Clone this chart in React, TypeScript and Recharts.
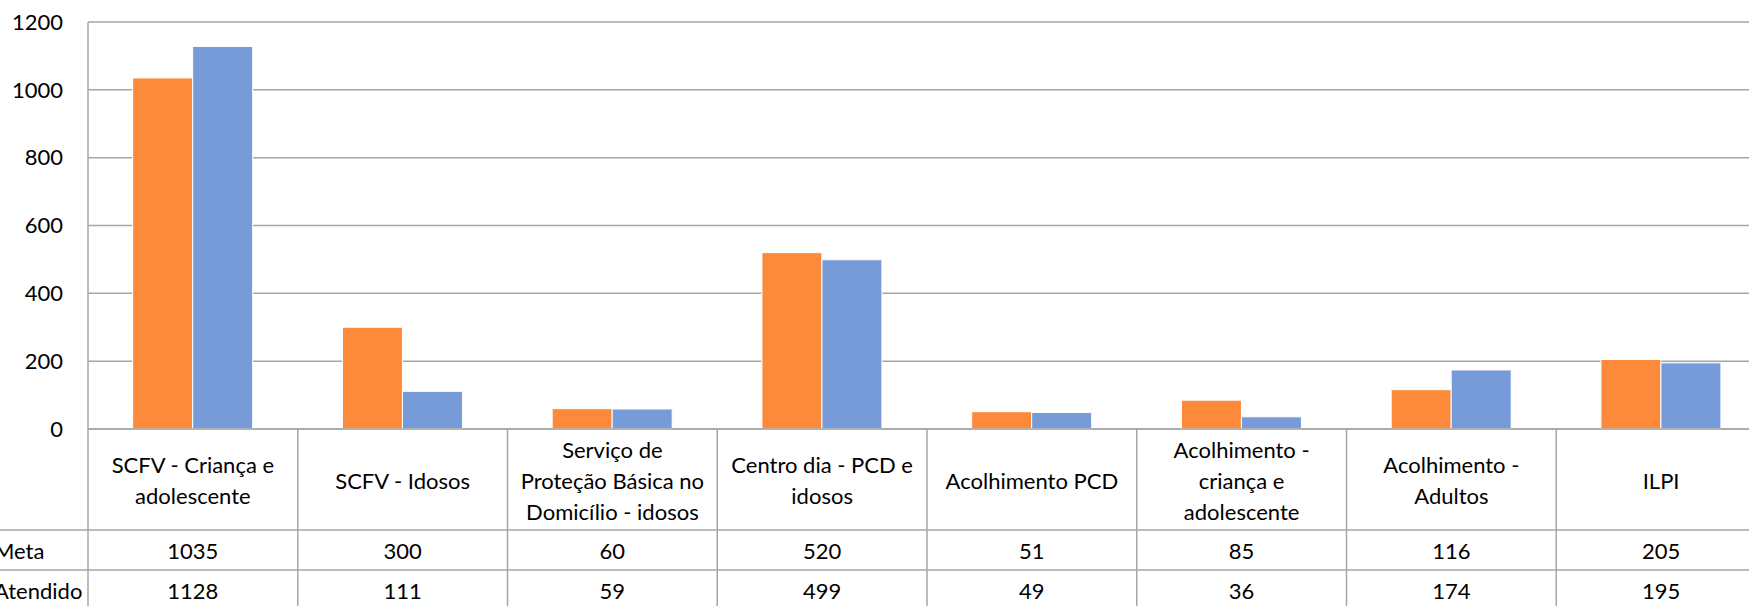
import { BarChart, Bar, XAxis, YAxis, CartesianGrid } from 'recharts'

const categories = [
  'SCFV - Criança e adolescente',
  'SCFV - Idosos',
  'Serviço de Proteção Básica no Domicílio - idosos',
  'Centro dia - PCD e idosos',
  'Acolhimento PCD',
  'Acolhimento - criança e adolescente',
  'Acolhimento - Adultos',
  'ILPI',
]
const labelLines = [
  ['SCFV - Criança e', 'adolescente'],
  ['SCFV - Idosos'],
  ['Serviço de', 'Proteção Básica no', 'Domicílio - idosos'],
  ['Centro dia - PCD e', 'idosos'],
  ['Acolhimento PCD'],
  ['Acolhimento -', 'criança e', 'adolescente'],
  ['Acolhimento -', 'Adultos'],
  ['ILPI'],
]
const meta = [1035, 300, 60, 520, 51, 85, 116, 205]
const atendido = [1128, 111, 59, 499, 49, 36, 174, 195]
const yTicks = [0, 200, 400, 600, 800, 1000, 1200]

const data = categories.map((name, i) => ({ name, meta: meta[i], atendido: atendido[i] }))

const W = 1766
const H = 620
const Y_AXIS_W = 88
const X_AXIS_H = 191
const COL = (W - Y_AXIS_W) / categories.length
const FONT = 'Lato, "Open Sans", sans-serif'
const LINE = '#A6A6A6'

const TableTick = (props: any) => {
  const { x, y, index } = props
  const lines = labelLines[index]
  const left = x - COL / 2
  const right = x + COL / 2
  const labelMid = y + 51
  const lh = 31
  const startY = labelMid - ((lines.length - 1) * lh) / 2
  return (
    <g fontFamily={FONT} fontSize={22} fill="#000">
      {index === 0 && (
        <g>
          <line x1={left} x2={left} y1={y} y2={H} stroke={LINE} strokeWidth={1.5} />
          <line x1={0} x2={W} y1={y + 101} y2={y + 101} stroke={LINE} strokeWidth={1.5} />
          <line x1={0} x2={W} y1={y + 141} y2={y + 141} stroke={LINE} strokeWidth={1.5} />
          <text x={-6} y={y + 121} dominantBaseline="central" textAnchor="start">Meta</text>
          <text x={-6} y={y + 161} dominantBaseline="central" textAnchor="start">Atendido</text>
        </g>
      )}
      <line x1={right} x2={right} y1={y} y2={H} stroke={LINE} strokeWidth={1.5} />
      {lines.map((l, i) => (
        <text key={i} x={x} y={startY + i * lh} textAnchor="middle" dominantBaseline="central">
          {l}
        </text>
      ))}
      <text x={x} y={y + 121} textAnchor="middle" dominantBaseline="central">{meta[index]}</text>
      <text x={x} y={y + 161} textAnchor="middle" dominantBaseline="central">{atendido[index]}</text>
    </g>
  )
}

export default function App() {
  return (
    <div style={{ position: 'absolute', left: 0, top: 0, width: 1749, height: 606, overflow: 'hidden', background: '#fff' }}>
      <BarChart
        width={W}
        height={H}
        data={data}
        margin={{ top: 22, right: 0, left: 0, bottom: 0 }}
        barCategoryGap="21.3%"
        barGap={0}
      >
        <CartesianGrid vertical={false} stroke={LINE} strokeWidth={1.5} />
        <XAxis
          dataKey="name"
          height={X_AXIS_H}
          interval={0}
          tickLine={false}
          tickSize={0}
          tickMargin={0}
          axisLine={{ stroke: LINE, strokeWidth: 1.5 }}
          tick={<TableTick />}
        />
        <YAxis
          width={Y_AXIS_W}
          domain={[0, 1200]}
          ticks={yTicks}
          interval={0}
          tickLine={false}
          tickSize={0}
          tickMargin={25}
          axisLine={{ stroke: LINE, strokeWidth: 1.5 }}
          tick={{ fontFamily: FONT, fontSize: 22, fill: '#000' }}
        />
        <Bar dataKey="meta" name="Meta" fill="#FD8A3B" stroke="#fff" strokeWidth={1} isAnimationActive={false} />
        <Bar dataKey="atendido" name="Atendido" fill="#779BD8" stroke="#fff" strokeWidth={1} isAnimationActive={false} />
      </BarChart>
    </div>
  )
}
